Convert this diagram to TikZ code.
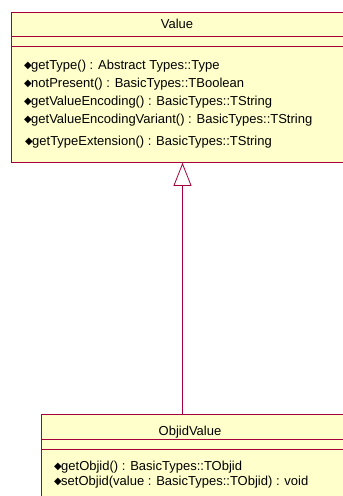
\documentclass[tikz,border=0pt]{standalone}
\usepackage{fontspec}
\setmainfont{Liberation Sans}
\newfontfamily\symfont{DejaVu Sans}
\usetikzlibrary{arrows.meta}
\definecolor{umlred}{RGB}{165,0,60}
\definecolor{umlfill}{RGB}{255,255,204}
\newcommand{\opmark}{\makebox[7bp][l]{\raisebox{1.2bp}{\symfont\fontsize{10bp}{10bp}\selectfont ◆}}}
\begin{document}
\begin{tikzpicture}[x=1bp, y=-1bp,
		classbox/.style={draw=umlred, fill=umlfill, line width=0.8bp, anchor=north west, inner sep=0pt},
		classname/.style={inner sep=0pt, font=\fontsize{13bp}{15bp}\selectfont},
		oper/.style={anchor=west, inner sep=0pt, font=\fontsize{13bp}{15bp}\selectfont},
		sepline/.style={draw=umlred, line width=0.8bp},
		generalise/.style={draw=umlred, line width=0.8bp, -{Triangle[open, length=23bp, width=18bp, fill=white]}}]
	\useasboundingbox (0,0) rectangle (342,496);
	\node[classbox, minimum width=340bp, minimum height=150bp] (value) at (11,12) {};
	\node[classname] (valuename) at (177,23.5) {Value};
	\path[sepline] ([yshift=-24bp]value.north west) -- ([yshift=-24bp]value.north east);
	\path[sepline] ([yshift=-34bp]value.north west) -- ([yshift=-34bp]value.north east);
	\node[oper] (gettype) at (24,66) {\opmark getType() : Abstract Types::Type};
	\node[oper] (notpresent) at (24,84) {\opmark notPresent() : BasicTypes::TBoolean};
	\node[oper] (getenc) at (24,102) {\opmark getValueEncoding() : BasicTypes::TString};
	\node[oper] (getencvar) at (24,120) {\opmark getValueEncodingVariant() : BasicTypes::TString};
	\node[oper] (gettypeext) at (25,142) {\opmark getTypeExtension() : BasicTypes::TString};

	\node[classbox, minimum width=310bp, minimum height=100bp] (objid) at (40.7,414) {};
	\node[classname] (objidname) at (190,432.5) {ObjidValue};
	\path[sepline] ([yshift=-25bp]objid.north west) -- ([yshift=-25bp]objid.north east);
	\path[sepline] ([yshift=-35bp]objid.north west) -- ([yshift=-35bp]objid.north east);
	\node[oper] (getobjid) at (54,467) {\opmark getObjid() : BasicTypes::TObjid};
	\node[oper] (setobjid) at (54,482) {\opmark setObjid(value : BasicTypes::TObjid) : void};

	\coordinate (genx) at (182.5,300);
	\path[generalise] (objid.north -| genx) -- (value.south -| genx);
\end{tikzpicture}
\end{document}
